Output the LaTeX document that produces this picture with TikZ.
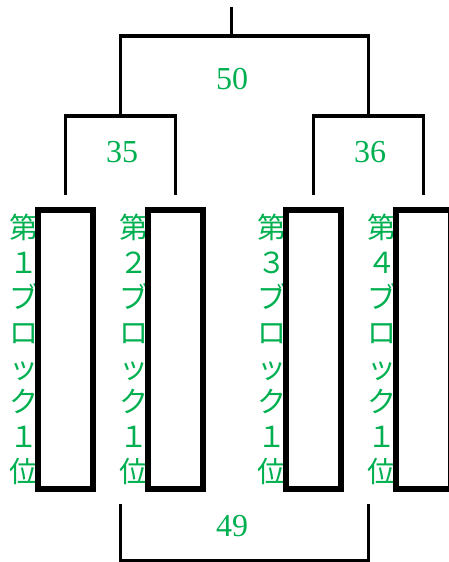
\documentclass[tikz,border=0pt]{standalone}
\usepackage{fontspec}
\newfontfamily\cjk{Noto Sans CJK JP}
\newfontfamily\scorefont{Liberation Serif}
\definecolor{rankgreen}{HTML}{00B050}

\begin{document}
\begin{tikzpicture}[x=1pt,y=-1pt,
    bracket/.style={line width=3.3pt},
    slot/.style={draw,line width=6pt,fill=white,minimum width=55pt,minimum height=279pt,inner sep=0pt},
    blocklabel/.style={text=rankgreen,align=center,inner sep=0pt,font=\cjk\fontsize{29}{34.9}\selectfont},
    score/.style={text=rankgreen,inner sep=0pt,font=\scorefont\fontsize{32}{32}\selectfont}]
                \useasboundingbox (0,0) rectangle (449,562);
                \clip (0,0) rectangle (449,562);
                \foreach \n/\x/\d in {1/65.5/１,2/175.5/２,3/313.5/３,4/423.5/４}{
                \node[blocklabel] (l\n) at (\x-41.5,349.5) {第\\\d\\ブ\\ロ\\ッ\\ク\\１\\位};
                \node[slot] (b\n) at (\x,349.5) {};
                }
                \coordinate (top) at (231.5,7);
                \coordinate (final) at (231.5,36);
                \coordinate (m1) at (120.5,116);
                \coordinate (m2) at (368.5,116);
                \draw[bracket] ([yshift=12pt]b1.north) |- (m1) -| ([yshift=12pt]b2.north);
                \draw[bracket] ([yshift=12pt]b3.north) |- (m2) -| ([yshift=12pt]b4.north);
                \draw[bracket] (m1) |- (final) -| (m2);
                \draw[bracket] (final) -- (top);
                \coordinate (c1) at (120.5,504);
                \coordinate (c2) at (368.5,504);
                \draw[bracket] (c1) -- ++(0,56.5) -| (c2);
                \node[score] (s50) at (232,79.5) {50};
                \node[score] (s35) at (122,152) {35};
                \node[score] (s36) at (370,152) {36};
                \node[score] (s49) at (232,526) {49};
            \end{tikzpicture}
\end{document}
